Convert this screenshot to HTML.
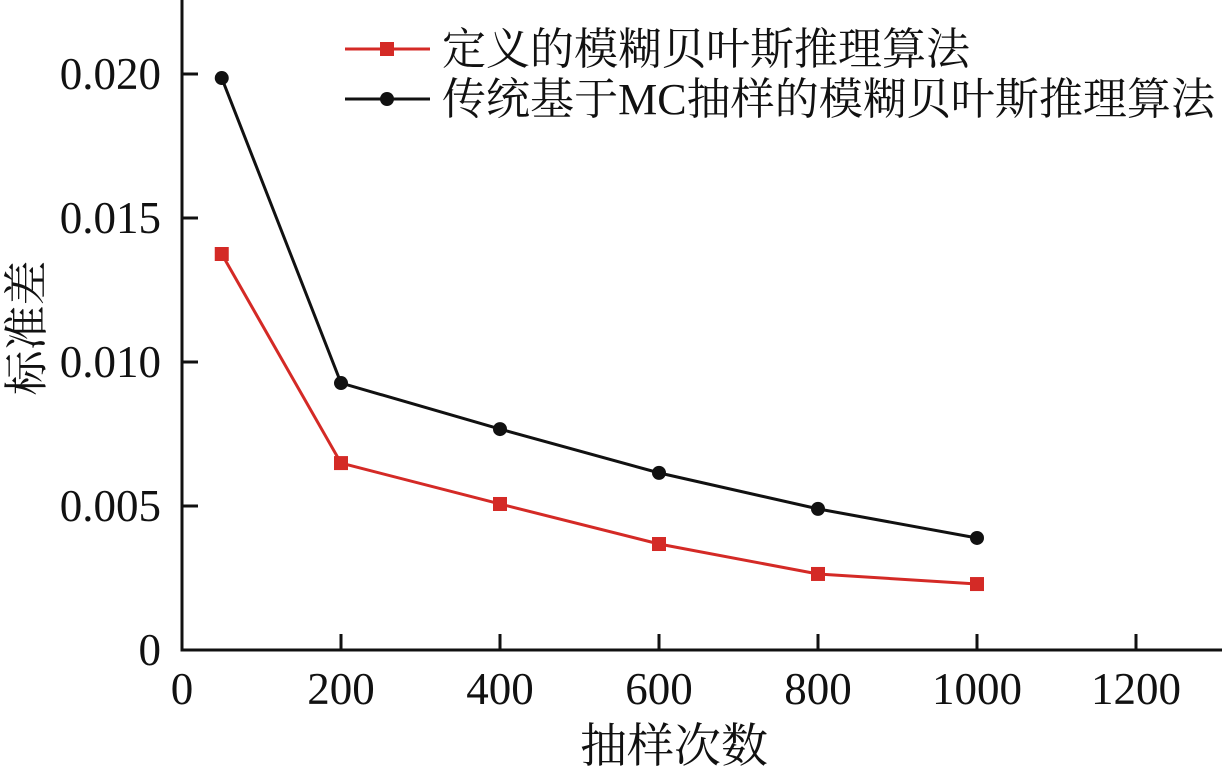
<!DOCTYPE html>
<html><head><meta charset="utf-8"><style>
body{margin:0;background:#fff;width:1222px;height:767px;overflow:hidden}
svg text{font-family:"Liberation Serif","Noto Serif CJK SC",serif;fill:#111}
</style></head><body>
<svg id="c" width="1222" height="767"></svg>
<script>
const xVals=[50,200,400,600,800,1000];
const redVals=[0.01375,0.00649,0.00507,0.00368,0.00264,0.00229];
const blackVals=[0.01986,0.00927,0.00767,0.00615,0.0049,0.00389];
const xTicks=[0,200,400,600,800,1000,1200];
const yTicks=[0,0.005,0.010,0.015,0.020];
const yTickLabels=["0","0.005","0.010","0.015","0.020"];
const legendLabels=["定义的模糊贝叶斯推理算法","传统基于MC抽样的模糊贝叶斯推理算法"];
const NS="http://www.w3.org/2000/svg";
const svg=document.getElementById('c');
const X=v=>182+v*(954/1200);
const Y=v=>650-v*(144/0.005);
function el(t,a,p){const e=document.createElementNS(NS,t);for(const k in a)e.setAttribute(k,a[k]);(p||svg).appendChild(e);return e;}
const ax=el('path',{d:'M182,0 V650 H1222',fill:'none',stroke:'#111','stroke-width':3});


xTicks.forEach(v=>{
 const t=el('line',{x1:X(v),x2:X(v),y1:650,y2:634,stroke:'#111','stroke-width':3});
 
 
 const l=el('text',{x:X(v),y:704,'text-anchor':'middle','font-size':45});l.textContent=v;
 
 
});
yTicks.forEach((v,i)=>{
 const t=el('line',{x1:182,x2:198,y1:Y(v),y2:Y(v),stroke:'#111','stroke-width':3});
 
 
 const l=el('text',{x:161,y:Y(v)+15,'text-anchor':'end','font-size':45});l.textContent=yTickLabels[i];
 
 
});
const xt=el('text',{x:674,y:762,'text-anchor':'middle','font-size':47});xt.textContent='抽样次数';


const yt=el('text',{x:0,y:0,'text-anchor':'middle','font-size':45,transform:'translate(42,328) rotate(-90)'});yt.textContent='标准差';


function series(vals,color,sq,name){
 const p=el('polyline',{points:vals.map((v,i)=>X(xVals[i])+','+Y(v)).join(' '),fill:'none',stroke:color,'stroke-width':3});
 
 
 vals.forEach((v,i)=>{
  const m=sq?el('rect',{x:X(xVals[i])-7,y:Y(v)-7,width:14,height:14,fill:color}):el('circle',{cx:X(xVals[i]),cy:Y(v),r:7,fill:color});
  
  
 });
}
series(redVals,'#d42a26',true,'red-series');
series(blackVals,'#111',false,'black-series');
[[ '#d42a26',true,49],['#111',false,99]].forEach((d,i)=>{
 const l=el('line',{x1:345,x2:430,y1:d[2],y2:d[2],stroke:d[0],'stroke-width':3});
 
 
 const m=d[1]?el('rect',{x:380,y:d[2]-7,width:14,height:14,fill:d[0]}):el('circle',{cx:387,cy:d[2],r:7,fill:d[0]});
 
 
 const t=el('text',{x:442,y:d[2]+15,'font-size':44,textLength:i?773:528,lengthAdjust:'spacingAndGlyphs'});t.textContent=legendLabels[i];
 
 
});
</script>
</body></html>
